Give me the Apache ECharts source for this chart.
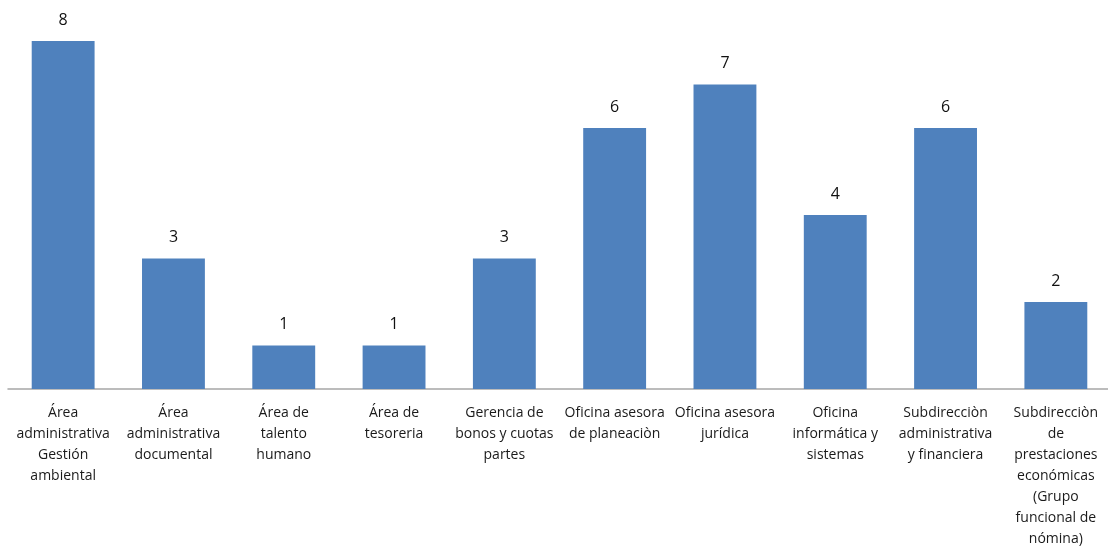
<!DOCTYPE html>
<html>
<head>
<meta charset="utf-8">
<script src="https://cdn.jsdelivr.net/npm/echarts@6/dist/echarts.min.js"></script>
<style>
  html, body { margin: 0; padding: 0; background: #fff; }
  #bar { width: 1108px; height: 553px; }
</style>
</head>
<body>
<div id="bar"></div>
<script>
// categories (line breaks as in the original chart)
const categories = [
  'Área\nadministrativa\nGestión\nambiental',
  'Área\nadministrativa\ndocumental',
  'Área de\ntalento\nhumano',
  'Área de\ntesoreria',
  'Gerencia de\nbonos y cuotas\npartes',
  'Oficina asesora\nde planeaciòn',
  'Oficina asesora\njurídica',
  'Oficina\ninformática y\nsistemas',
  'Subdirecciòn\nadministrativa\ny financiera',
  'Subdirecciòn\nde\nprestaciones\neconómicas\n(Grupo\nfuncional de\nnómina)'
];
const values = [8, 3, 1, 1, 3, 6, 7, 4, 6, 2];

const chart = echarts.init(document.getElementById('bar'));
chart.setOption({
  animation: false,
  textStyle: { fontFamily: 'Open Sans' },
  grid: { left: 8, width: 1103, top: 41, height: 348, outerBoundsMode: 'none' },
  xAxis: {
    type: 'category',
    data: categories,
    axisLine: { lineStyle: { color: '#a6a6a6', width: 1.5 } },
    axisTick: { show: false },
    axisLabel: {
      interval: 0,
      color: '#1a1a1a',
      fontSize: 14,
      lineHeight: 21,
      margin: 14,
      align: 'center'
    }
  },
  yAxis: {
    type: 'value',
    min: 0,
    max: 8,
    show: false,
    splitLine: { show: false }
  },
  series: [{
    type: 'bar',
    data: values,
    barWidth: '57%',
    itemStyle: { color: '#4f81bd' },
    label: {
      show: true,
      position: 'top',
      distance: 13,
      color: '#111',
      fontSize: 16
    }
  }]
});
</script>
</body>
</html>
